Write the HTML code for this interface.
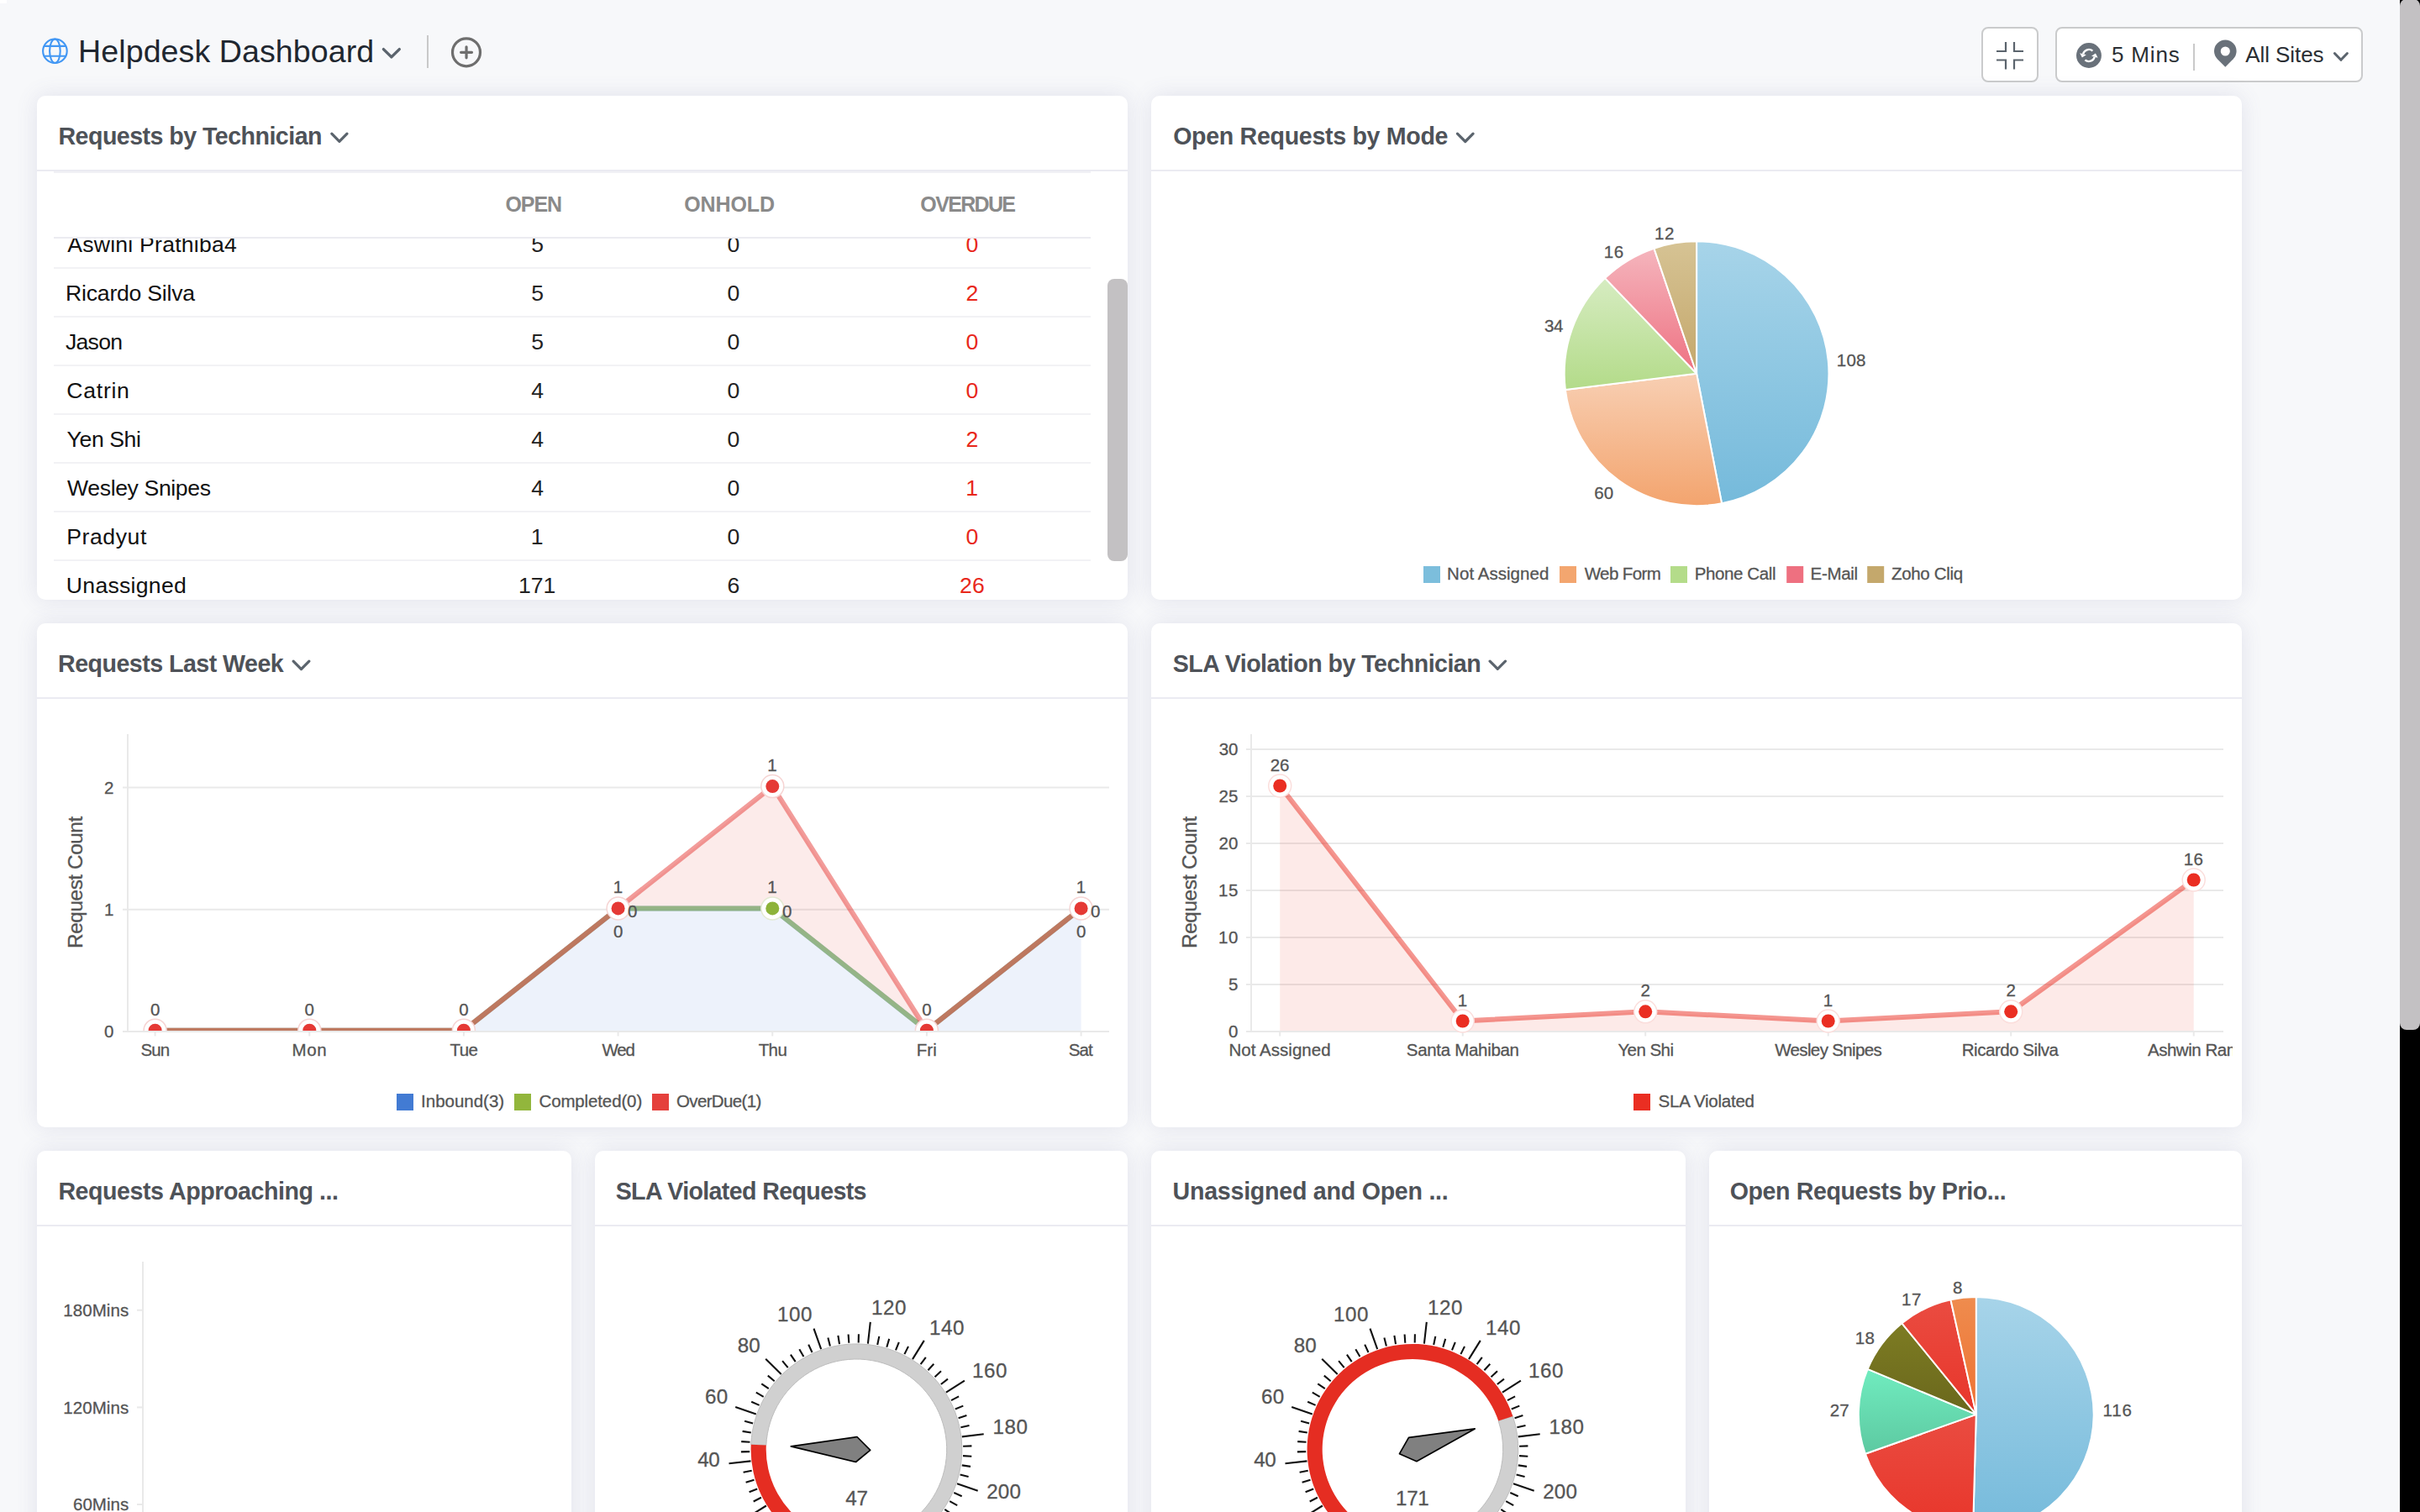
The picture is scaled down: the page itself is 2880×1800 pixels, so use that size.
<!DOCTYPE html><html lang="en"><head><meta charset="utf-8"><title>Helpdesk Dashboard</title><style>
*{box-sizing:border-box}
html,body{margin:0;padding:0}
@media (max-width:1500px){html{zoom:.5}}
body{width:2880px;height:1800px;overflow:hidden;background:#f7f8fa;position:relative;font-family:"Liberation Sans",sans-serif}
.t{position:absolute;white-space:nowrap;line-height:1}
.card{position:absolute;background:#fff;border-radius:10px;box-shadow:0 0 26px rgba(90,90,150,.14);overflow:hidden}
.card .hd{position:absolute;left:0;top:0;right:0;height:90px;border-bottom:2px solid #ebebf2}
svg{position:absolute;left:0;top:0;overflow:visible}
svg text{font-family:"Liberation Sans",sans-serif;stroke:#555;stroke-width:.3px}
.btn{position:absolute;background:#fff;border:2px solid #cacbcc;border-radius:8px}
.row{position:absolute;left:20px;width:1234px;height:2px;background:#f2f2f5}
</style></head><body>
<div id="topbar" style="position:absolute;left:0;top:0;width:2856px;height:114px"><div style="position:absolute;left:0;top:0;width:8px;height:4px;background:#fff"></div>
<svg width="2856" height="114" viewBox="0 0 2856 114">
<g fill="none" stroke="#4297f4" stroke-width="2.1"><circle cx="65.4" cy="60.75" r="14.3"/><ellipse cx="65.4" cy="60.75" rx="6.3" ry="14.3"/><path d="M52.4,54.9H78.4M52.4,66.8H78.4"/></g>
<path d="M456.4,58.6L465.85,67.9L475.3,58.6" fill="none" stroke="#5b646d" stroke-width="3.4" stroke-linecap="round" stroke-linejoin="round"/>
<path d="M509,42V81" stroke="#c9c9c9" stroke-width="2"/>
<g fill="none" stroke="#6e6e6e" stroke-width="3.2"><circle cx="555" cy="62.3" r="16.5"/><path d="M548.6,62.3H561.5M555.05,55.8V68.8" stroke-linecap="round"/></g>
</svg>
<div class="t" style="left:93.12px;top:42.57px;font-size:37.6px;color:#1f2730;letter-spacing:0.063px;">Helpdesk Dashboard</div>
<div class="btn" style="left:2358px;top:32px;width:67.5px;height:66px"></div>
<div class="btn" style="left:2446px;top:32px;width:366px;height:66px"></div>
<svg width="2856" height="114" viewBox="0 0 2856 114">
<path d="M2376,61H2387V50M2397,50V61H2408M2376,71.5H2387V82.5M2397,82.5V71.5H2408" fill="none" stroke="#5b646d" stroke-width="2.2"/>
<circle cx="2485.95" cy="65.95" r="14.95" fill="#69717a"/>
<g fill="none" stroke="#fff" stroke-width="2.4"><path d="M2490.4,60.6A7,7 0 0 0 2479.1,64.2"/><path d="M2481.4,71.4A7,7 0 0 0 2492.7,67.8"/></g>
<path d="M2475.2,63.3L2482.8,65.3L2477.9,68.6Z" fill="#fff"/><path d="M2496.6,68.7L2489,66.7L2493.9,63.4Z" fill="#fff"/>
<path d="M2611,52V84" stroke="#c9c9c9" stroke-width="2"/>
<path d="M2648.3,79.7L2638.85,70.16A13.3,13.3 0 1 1 2657.75,70.16Z" fill="#69717a"/><circle cx="2648.3" cy="61" r="5.55" fill="#fff"/>
<path d="M2778.4,63.5L2785.9,71.3L2793.4,63.5" fill="none" stroke="#5b646d" stroke-width="3" stroke-linecap="round" stroke-linejoin="round"/>
</svg>
<div class="t" style="left:2512.96px;top:52.19px;font-size:26px;color:#2a2e33;letter-spacing:0.860px;">5 Mins</div>
<div class="t" style="left:2672.25px;top:52.19px;font-size:26px;color:#2a2e33;letter-spacing:-0.079px;">All Sites</div>
</div>
<div class="card" id="c1" style="left:44px;top:114px;width:1298px;height:600px"><div class="hd"></div>
<div class="t" style="left:25.49px;top:33.79px;font-size:28.6px;color:#4e5258;font-weight:bold;letter-spacing:-0.535px;">Requests by Technician</div>
<svg width="1298" height="90"><path d="M350.8,45.2L359.9,54.3L369.0,45.2" fill="none" stroke="#5b646d" stroke-width="3.2" stroke-linecap="round" stroke-linejoin="round"/></svg>
<div class="row" style="top:90px;background:#f1f1f5"></div>
<div class="row" style="top:168px;background:#ececf1"></div>
<div class="t" style="left:557.47px;top:117.14px;font-size:25px;color:#8a8a8a;font-weight:bold;letter-spacing:-1.083px;">OPEN</div>
<div class="t" style="left:770.17px;top:117.14px;font-size:25px;color:#8a8a8a;font-weight:bold;letter-spacing:-0.071px;">ONHOLD</div>
<div class="t" style="left:1051.37px;top:117.14px;font-size:25px;color:#8a8a8a;font-weight:bold;letter-spacing:-1.673px;">OVERDUE</div>
<div style="position:absolute;left:0;top:170px;width:1298px;height:430px;overflow:hidden">
<div class="t" style="left:36.25px;top:-6.32px;font-size:26.6px;color:#111;letter-spacing:0.230px;">Aswini Prathiba4</div>
<div class="t" style="left:588.13px;top:-6.32px;font-size:26.6px;color:#222;">5</div>
<div class="t" style="left:821.60px;top:-6.32px;font-size:26.6px;color:#222;">0</div>
<div class="t" style="left:1105.60px;top:-6.32px;font-size:26.6px;color:#e8281b;">0</div>
<div class="row" style="top:34px"></div>
<div class="t" style="left:34.12px;top:51.68px;font-size:26.6px;color:#111;letter-spacing:-0.232px;">Ricardo Silva</div>
<div class="t" style="left:588.13px;top:51.68px;font-size:26.6px;color:#222;">5</div>
<div class="t" style="left:821.60px;top:51.68px;font-size:26.6px;color:#222;">0</div>
<div class="t" style="left:1105.60px;top:51.68px;font-size:26.6px;color:#e8281b;">2</div>
<div class="row" style="top:92px"></div>
<div class="t" style="left:33.98px;top:109.68px;font-size:26.6px;color:#111;letter-spacing:-0.731px;">Jason</div>
<div class="t" style="left:588.13px;top:109.68px;font-size:26.6px;color:#222;">5</div>
<div class="t" style="left:821.60px;top:109.68px;font-size:26.6px;color:#222;">0</div>
<div class="t" style="left:1105.60px;top:109.68px;font-size:26.6px;color:#e8281b;">0</div>
<div class="row" style="top:150px"></div>
<div class="t" style="left:35.35px;top:167.68px;font-size:26.6px;color:#111;letter-spacing:0.725px;">Catrin</div>
<div class="t" style="left:588.19px;top:167.68px;font-size:26.6px;color:#222;">4</div>
<div class="t" style="left:821.60px;top:167.68px;font-size:26.6px;color:#222;">0</div>
<div class="t" style="left:1105.60px;top:167.68px;font-size:26.6px;color:#e8281b;">0</div>
<div class="row" style="top:208px"></div>
<div class="t" style="left:35.62px;top:225.68px;font-size:26.6px;color:#111;letter-spacing:-0.404px;">Yen Shi</div>
<div class="t" style="left:588.19px;top:225.68px;font-size:26.6px;color:#222;">4</div>
<div class="t" style="left:821.60px;top:225.68px;font-size:26.6px;color:#222;">0</div>
<div class="t" style="left:1105.60px;top:225.68px;font-size:26.6px;color:#e8281b;">2</div>
<div class="row" style="top:266px"></div>
<div class="t" style="left:36.08px;top:283.68px;font-size:26.6px;color:#111;letter-spacing:-0.377px;">Wesley Snipes</div>
<div class="t" style="left:588.19px;top:283.68px;font-size:26.6px;color:#222;">4</div>
<div class="t" style="left:821.60px;top:283.68px;font-size:26.6px;color:#222;">0</div>
<div class="t" style="left:1105.24px;top:283.68px;font-size:26.6px;color:#e8281b;">1</div>
<div class="row" style="top:324px"></div>
<div class="t" style="left:35.22px;top:341.68px;font-size:26.6px;color:#111;letter-spacing:0.587px;">Pradyut</div>
<div class="t" style="left:587.74px;top:341.68px;font-size:26.6px;color:#222;">1</div>
<div class="t" style="left:821.60px;top:341.68px;font-size:26.6px;color:#222;">0</div>
<div class="t" style="left:1105.60px;top:341.68px;font-size:26.6px;color:#e8281b;">0</div>
<div class="row" style="top:382px"></div>
<div class="t" style="left:34.85px;top:399.68px;font-size:26.6px;color:#111;letter-spacing:0.279px;">Unassigned</div>
<div class="t" style="left:572.95px;top:399.68px;font-size:26.6px;color:#222;">171</div>
<div class="t" style="left:821.51px;top:399.68px;font-size:26.6px;color:#222;">6</div>
<div class="t" style="left:1098.12px;top:399.68px;font-size:26.6px;color:#e8281b;">26</div>
</div>
<div style="position:absolute;left:1274px;top:218px;width:24px;height:336px;border-radius:8px;background:#c3c1c3"></div>
</div>
<div class="card" id="c2" style="left:1370px;top:114px;width:1298px;height:600px"><div class="hd"></div>
<div class="t" style="left:26.13px;top:33.79px;font-size:28.6px;color:#4e5258;font-weight:bold;letter-spacing:-0.315px;">Open Requests by Mode</div>
<svg width="1298" height="90"><path d="M364.4,45.2L373.8,54.5L383.1,45.2" fill="none" stroke="#5b646d" stroke-width="3.2" stroke-linecap="round" stroke-linejoin="round"/></svg>
<svg width="1298" height="600" viewBox="1370 114 1298 600">
<defs>
<linearGradient id="gb" x1="0" y1="0" x2="0" y2="1"><stop offset="0" stop-color="#a7d4e9"/><stop offset="1" stop-color="#75badb"/></linearGradient>
<linearGradient id="go" x1="0" y1="0" x2="0" y2="1"><stop offset="0" stop-color="#f8cfb3"/><stop offset="1" stop-color="#f3a46e"/></linearGradient>
<linearGradient id="gg" x1="0" y1="0" x2="0" y2="1"><stop offset="0" stop-color="#d6ecc1"/><stop offset="1" stop-color="#b3db89"/></linearGradient>
<linearGradient id="gp" x1="0" y1="0" x2="0" y2="1"><stop offset="0" stop-color="#f5b5bd"/><stop offset="1" stop-color="#ee7282"/></linearGradient>
<linearGradient id="gt" x1="0" y1="0" x2="0" y2="1"><stop offset="0" stop-color="#d6c394"/><stop offset="1" stop-color="#c4a76b"/></linearGradient>
<linearGradient id="gr" x1="0" y1="0" x2="0" y2="1"><stop offset="0" stop-color="#ea4c41"/><stop offset="1" stop-color="#e8352a"/></linearGradient>
<linearGradient id="gm" x1="0" y1="0" x2="0" y2="1"><stop offset="0" stop-color="#70ecbf"/><stop offset="1" stop-color="#5dc9a1"/></linearGradient>
<linearGradient id="gl" x1="0" y1="0" x2="0" y2="1"><stop offset="0" stop-color="#7d7c23"/><stop offset="1" stop-color="#6a671c"/></linearGradient>
<linearGradient id="gn" x1="0" y1="0" x2="0" y2="1"><stop offset="0" stop-color="#ef8c4e"/><stop offset="1" stop-color="#ed7132"/></linearGradient>
</defs>
<path d="M2019.10,444.70L2019.10,287.30A157.4,157.4 0 0 1 2049.02,599.23Z" fill="url(#gb)" stroke="#fff" stroke-width="2" stroke-linejoin="round"/>
<path d="M2019.10,444.70L2049.02,599.23A157.4,157.4 0 0 1 1862.89,464.00Z" fill="url(#go)" stroke="#fff" stroke-width="2" stroke-linejoin="round"/>
<path d="M2019.10,444.70L1862.89,464.00A157.4,157.4 0 0 1 1910.10,331.14Z" fill="url(#gg)" stroke="#fff" stroke-width="2" stroke-linejoin="round"/>
<path d="M2019.10,444.70L1910.10,331.14A157.4,157.4 0 0 1 1968.42,295.68Z" fill="url(#gp)" stroke="#fff" stroke-width="2" stroke-linejoin="round"/>
<path d="M2019.10,444.70L1968.42,295.68A157.4,157.4 0 0 1 2019.10,287.30Z" fill="url(#gt)" stroke="#fff" stroke-width="2" stroke-linejoin="round"/>
<text x="2185.84" y="435.60" font-size="20.5" fill="#555" letter-spacing="0.163" >108</text>
<text x="1968.94" y="284.80" font-size="20.5" fill="#555" letter-spacing="0.641" >12</text>
<text x="1908.74" y="307.30" font-size="20.5" fill="#555" letter-spacing="0.511" >16</text>
<text x="1838.12" y="395.30" font-size="20.5" fill="#555" letter-spacing="-0.570" >34</text>
<text x="1897.36" y="593.70" font-size="20.5" fill="#555" letter-spacing="-0.110" >60</text>
<rect x="1694" y="674" width="20" height="20" fill="#7cbedc"/>
<text x="1722.12" y="690.20" font-size="20.5" fill="#555" letter-spacing="0.036" >Not Assigned</text>
<rect x="1856" y="674" width="20" height="20" fill="#f3a66f"/>
<text x="1885.71" y="690.20" font-size="20.5" fill="#555" letter-spacing="-0.600" >Web Form</text>
<rect x="1988" y="674" width="20" height="20" fill="#b4dc8a"/>
<text x="2016.82" y="690.20" font-size="20.5" fill="#555" letter-spacing="-0.402" >Phone Call</text>
<rect x="2126.2" y="674" width="20" height="20" fill="#ee7080"/>
<text x="2154.62" y="690.20" font-size="20.5" fill="#555" letter-spacing="-0.342" >E-Mail</text>
<rect x="2222.2" y="674" width="20" height="20" fill="#c4a86c"/>
<text x="2250.95" y="690.20" font-size="20.5" fill="#555" letter-spacing="-0.318" >Zoho Cliq</text>
</svg></div>
<div class="card" id="c3" style="left:44px;top:742px;width:1298px;height:600px"><div class="hd"></div>
<div class="t" style="left:25.09px;top:33.79px;font-size:28.6px;color:#4e5258;font-weight:bold;letter-spacing:-0.529px;">Requests Last Week</div>
<svg width="1298" height="90"><path d="M305.1,45.2L314.5,54.6L323.9,45.2" fill="none" stroke="#5b646d" stroke-width="3.2" stroke-linecap="round" stroke-linejoin="round"/></svg>
<svg width="1298" height="600" viewBox="44 742 1298 600">
<path d="M152,874V1228" stroke="#e9e9e9" stroke-width="2"/>
<path d="M146,1228H1320" stroke="#e9e9e9" stroke-width="2"/>
<path d="M146,1082.7H1320" stroke="#e9e9e9" stroke-width="2"/>
<path d="M146,937.4H1320" stroke="#e9e9e9" stroke-width="2"/>
<path d="M184.6,1228v5.5" stroke="#e9e9e9" stroke-width="2"/>
<path d="M368.3,1228v5.5" stroke="#e9e9e9" stroke-width="2"/>
<path d="M551.9,1228v5.5" stroke="#e9e9e9" stroke-width="2"/>
<path d="M735.6,1228v5.5" stroke="#e9e9e9" stroke-width="2"/>
<path d="M919.3,1228v5.5" stroke="#e9e9e9" stroke-width="2"/>
<path d="M1102.9,1228v5.5" stroke="#e9e9e9" stroke-width="2"/>
<path d="M1286.6,1228v5.5" stroke="#e9e9e9" stroke-width="2"/>
<clipPath id="cp3"><rect x="146" y="860" width="1180" height="367"/></clipPath>
<g clip-path="url(#cp3)">
<polygon points="184.6,1228 184.6,1226.7 368.3,1226.7 551.9,1226.7 735.6,1081.4 919.3,1081.4 1102.9,1226.7 1286.6,1081.4 1286.6,1228" fill="#4a7fd8" fill-opacity=".10"/>
<polygon points="184.6,1226.7 368.3,1226.7 551.9,1226.7 735.6,1081.4 919.3,936.1 1102.9,1226.7 1286.6,1081.4 1286.6,1081.4 1102.9,1226.7 919.3,1081.4 735.6,1081.4 551.9,1226.7 368.3,1226.7 184.6,1226.7" fill="#e53935" fill-opacity=".10"/>
<polyline points="184.6,1226.7 368.3,1226.7 551.9,1226.7 735.6,1081.4 919.3,1081.4 1102.9,1226.7 1286.6,1081.4" fill="none" stroke="#4a7fd8" stroke-opacity=".5" stroke-width="6" stroke-linejoin="round"/>
<polyline points="184.6,1226.7 368.3,1226.7 551.9,1226.7 735.6,1081.4 919.3,1081.4 1102.9,1226.7 1286.6,1081.4" fill="none" stroke="#8db33a" stroke-opacity=".55" stroke-width="6" stroke-linejoin="round"/>
<polyline points="184.6,1226.7 368.3,1226.7 551.9,1226.7 735.6,1081.4 919.3,936.1 1102.9,1226.7 1286.6,1081.4" fill="none" stroke="#e53935" stroke-opacity=".5" stroke-width="6" stroke-linejoin="round"/>
<circle cx="184.6" cy="1226.7" r="13.5" fill="#fff" stroke="#f6d4d3" stroke-width="1.5"/><circle cx="184.6" cy="1226.7" r="8" fill="#e53935"/>
<circle cx="368.3" cy="1226.7" r="13.5" fill="#fff" stroke="#f6d4d3" stroke-width="1.5"/><circle cx="368.3" cy="1226.7" r="8" fill="#e53935"/>
<circle cx="551.9" cy="1226.7" r="13.5" fill="#fff" stroke="#f6d4d3" stroke-width="1.5"/><circle cx="551.9" cy="1226.7" r="8" fill="#e53935"/>
<circle cx="735.6" cy="1081.4" r="13.5" fill="#fff" stroke="#f6d4d3" stroke-width="1.5"/><circle cx="735.6" cy="1081.4" r="8" fill="#e53935"/>
<circle cx="919.3" cy="1081.4" r="13.5" fill="#fff" stroke="#e3ead2" stroke-width="1.5"/><circle cx="919.3" cy="1081.4" r="8" fill="#8db33a"/>
<circle cx="919.3" cy="936.1" r="13.5" fill="#fff" stroke="#f6d4d3" stroke-width="1.5"/><circle cx="919.3" cy="936.1" r="8" fill="#e53935"/>
<circle cx="1102.9" cy="1226.7" r="13.5" fill="#fff" stroke="#f6d4d3" stroke-width="1.5"/><circle cx="1102.9" cy="1226.7" r="8" fill="#e53935"/>
<circle cx="1286.6" cy="1081.4" r="13.5" fill="#fff" stroke="#f6d4d3" stroke-width="1.5"/><circle cx="1286.6" cy="1081.4" r="8" fill="#e53935"/>
</g>
<text x="178.90" y="1208.70" font-size="20.5" fill="#555" >0</text>
<text x="362.57" y="1208.70" font-size="20.5" fill="#555" >0</text>
<text x="546.24" y="1208.70" font-size="20.5" fill="#555" >0</text>
<text x="729.63" y="1063.40" font-size="20.5" fill="#555" >1</text>
<text x="913.30" y="918.10" font-size="20.5" fill="#555" >1</text>
<text x="1097.25" y="1208.70" font-size="20.5" fill="#555" >0</text>
<text x="1280.64" y="1063.40" font-size="20.5" fill="#555" >1</text>
<text x="747.11" y="1091.70" font-size="20.5" fill="#555" >0</text>
<text x="729.91" y="1116.40" font-size="20.5" fill="#555" >0</text>
<text x="1298.12" y="1091.70" font-size="20.5" fill="#555" >0</text>
<text x="1280.92" y="1116.40" font-size="20.5" fill="#555" >0</text>
<text x="913.30" y="1063.40" font-size="20.5" fill="#555" >1</text>
<text x="930.98" y="1091.70" font-size="20.5" fill="#555" >0</text>
<text x="123.89" y="1235.30" font-size="20.5" fill="#555" >0</text>
<text x="124.09" y="1090.00" font-size="20.5" fill="#555" >1</text>
<text x="124.12" y="944.70" font-size="20.5" fill="#555" >2</text>
<text x="167.50" y="1257.20" font-size="20.5" fill="#555" letter-spacing="-0.943" >Sun</text>
<text x="347.44" y="1257.20" font-size="20.5" fill="#555" letter-spacing="0.712" >Mon</text>
<text x="535.50" y="1257.20" font-size="20.5" fill="#555" letter-spacing="-0.626" >Tue</text>
<text x="716.51" y="1257.20" font-size="20.5" fill="#555" letter-spacing="-1.175" >Wed</text>
<text x="902.63" y="1257.20" font-size="20.5" fill="#555" letter-spacing="-0.566" >Thu</text>
<text x="1090.73" y="1257.20" font-size="20.5" fill="#555" letter-spacing="0.116" >Fri</text>
<text x="1271.85" y="1257.20" font-size="20.5" fill="#555" letter-spacing="-1.007" >Sat</text>
<text x="-1.99" y="0.00" font-size="24.3" fill="#555" letter-spacing="-0.416" transform="translate(97.6,1126.9) rotate(-90)">Request Count</text>
<rect x="472" y="1302" width="20" height="20" fill="#427bd3"/>
<text x="501.11" y="1317.70" font-size="20.5" fill="#555" letter-spacing="-0.016" >Inbound(3)</text>
<rect x="612" y="1302" width="20" height="20" fill="#92b63c"/>
<text x="641.46" y="1317.70" font-size="20.5" fill="#555" letter-spacing="-0.131" >Completed(0)</text>
<rect x="776" y="1302" width="20" height="20" fill="#e5403c"/>
<text x="805.03" y="1317.70" font-size="20.5" fill="#555" letter-spacing="-0.655" >OverDue(1)</text>
</svg></div>
<div class="card" id="c4" style="left:1370px;top:742px;width:1298px;height:600px"><div class="hd"></div>
<div class="t" style="left:25.78px;top:33.79px;font-size:28.6px;color:#4e5258;font-weight:bold;letter-spacing:-0.534px;">SLA Violation by Technician</div>
<svg width="1298" height="90"><path d="M403.1,45.2L412.3,54.4L421.5,45.2" fill="none" stroke="#5b646d" stroke-width="3.2" stroke-linecap="round" stroke-linejoin="round"/></svg>
<svg width="1298" height="600" viewBox="1370 742 1298 600">
<clipPath id="cp4"><rect x="1370" y="742" width="1287" height="600"/></clipPath><g clip-path="url(#cp4)">
<path d="M1489,874V1228" stroke="#e9e9e9" stroke-width="2"/>
<path d="M1483,1228.0H2646" stroke="#e9e9e9" stroke-width="2"/>
<text x="1461.89" y="1235.30" font-size="20.5" fill="#555" >0</text>
<path d="M1483,1172.0H2646" stroke="#e9e9e9" stroke-width="2"/>
<text x="1461.95" y="1179.30" font-size="20.5" fill="#555" >5</text>
<path d="M1483,1116.0H2646" stroke="#e9e9e9" stroke-width="2"/>
<text x="1450.08" y="1123.30" font-size="20.5" fill="#555" letter-spacing="0.411" >10</text>
<path d="M1483,1060.0H2646" stroke="#e9e9e9" stroke-width="2"/>
<text x="1450.08" y="1067.30" font-size="20.5" fill="#555" letter-spacing="0.471" >15</text>
<path d="M1483,1004.0H2646" stroke="#e9e9e9" stroke-width="2"/>
<text x="1450.61" y="1011.30" font-size="20.5" fill="#555" letter-spacing="-0.120" >20</text>
<path d="M1483,948.0H2646" stroke="#e9e9e9" stroke-width="2"/>
<text x="1450.61" y="955.30" font-size="20.5" fill="#555" letter-spacing="-0.060" >25</text>
<path d="M1483,892.0H2646" stroke="#e9e9e9" stroke-width="2"/>
<text x="1450.86" y="899.30" font-size="20.5" fill="#555" letter-spacing="-0.370" >30</text>
<path d="M1523.2,1228v5.5" stroke="#e9e9e9" stroke-width="2"/>
<path d="M1740.7,1228v5.5" stroke="#e9e9e9" stroke-width="2"/>
<path d="M1958.2,1228v5.5" stroke="#e9e9e9" stroke-width="2"/>
<path d="M2175.7,1228v5.5" stroke="#e9e9e9" stroke-width="2"/>
<path d="M2393.2,1228v5.5" stroke="#e9e9e9" stroke-width="2"/>
<path d="M2610.7,1228v5.5" stroke="#e9e9e9" stroke-width="2"/>
<polygon points="1523.2,1227 1523.2,935.5 1740.7,1215.5 1958.2,1204.3 2175.7,1215.5 2393.2,1204.3 2610.7,1047.5 2610.7,1227" fill="#ea2e22" fill-opacity=".10"/>
<polyline points="1523.2,935.5 1740.7,1215.5 1958.2,1204.3 2175.7,1215.5 2393.2,1204.3 2610.7,1047.5" fill="none" stroke="#ea2e22" stroke-opacity=".5" stroke-width="6" stroke-linejoin="round"/>
<circle cx="1523.2" cy="935.5" r="13.5" fill="#fff" stroke="#fbdedc" stroke-width="1.5"/><circle cx="1523.2" cy="935.5" r="8" fill="#ea2e22"/>
<text x="1511.74" y="917.50" font-size="20.5" fill="#555" letter-spacing="-0.020" >26</text>
<circle cx="1740.7" cy="1215.5" r="13.5" fill="#fff" stroke="#fbdedc" stroke-width="1.5"/><circle cx="1740.7" cy="1215.5" r="8" fill="#ea2e22"/>
<text x="1734.72" y="1197.50" font-size="20.5" fill="#555" >1</text>
<circle cx="1958.2" cy="1204.3" r="13.5" fill="#fff" stroke="#fbdedc" stroke-width="1.5"/><circle cx="1958.2" cy="1204.3" r="8" fill="#ea2e22"/>
<text x="1952.50" y="1186.30" font-size="20.5" fill="#555" >2</text>
<circle cx="2175.7" cy="1215.5" r="13.5" fill="#fff" stroke="#fbdedc" stroke-width="1.5"/><circle cx="2175.7" cy="1215.5" r="8" fill="#ea2e22"/>
<text x="2169.72" y="1197.50" font-size="20.5" fill="#555" >1</text>
<circle cx="2393.2" cy="1204.3" r="13.5" fill="#fff" stroke="#fbdedc" stroke-width="1.5"/><circle cx="2393.2" cy="1204.3" r="8" fill="#ea2e22"/>
<text x="2387.50" y="1186.30" font-size="20.5" fill="#555" >2</text>
<circle cx="2610.7" cy="1047.5" r="13.5" fill="#fff" stroke="#fbdedc" stroke-width="1.5"/><circle cx="2610.7" cy="1047.5" r="8" fill="#ea2e22"/>
<text x="2598.71" y="1029.50" font-size="20.5" fill="#555" letter-spacing="0.511" >16</text>
<text x="1462.42" y="1257.20" font-size="20.5" fill="#555" letter-spacing="0.036" >Not Assigned</text>
<text x="1673.82" y="1257.20" font-size="20.5" fill="#555" letter-spacing="-0.312" >Santa Mahiban</text>
<text x="1925.38" y="1257.20" font-size="20.5" fill="#555" letter-spacing="-0.559" >Yen Shi</text>
<text x="2112.21" y="1257.20" font-size="20.5" fill="#555" letter-spacing="-0.632" >Wesley Snipes</text>
<text x="2334.78" y="1257.20" font-size="20.5" fill="#555" letter-spacing="-0.469" >Ricardo Silva</text>
<text x="2555.98" y="1257.20" font-size="20.5" fill="#555" letter-spacing="-0.478" >Ashwin Ram</text>
<text x="-1.99" y="0.00" font-size="24.3" fill="#555" letter-spacing="-0.416" transform="translate(1423.6,1126.9) rotate(-90)">Request Count</text>
<rect x="1944" y="1302" width="20" height="20" fill="#ea2e22"/>
<text x="1973.57" y="1317.70" font-size="20.5" fill="#555" letter-spacing="-0.238" >SLA Violated</text>
</g></svg></div>
<div class="card" id="c5" style="left:44px;top:1370px;width:636px;height:600px"><div class="hd"></div>
<div class="t" style="left:25.39px;top:33.79px;font-size:28.6px;color:#4e5258;font-weight:bold;letter-spacing:-0.440px;">Requests Approaching ...</div>
<svg width="636" height="600" viewBox="44 1370 636 600">
<path d="M170,1502V1800" stroke="#e9e9e9" stroke-width="2"/>
<path d="M163,1559.7h7" stroke="#e9e9e9" stroke-width="2"/>
<text x="75.18" y="1567.00" font-size="20.5" fill="#555" letter-spacing="0.093" >180Mins</text>
<path d="M163,1675.4h7" stroke="#e9e9e9" stroke-width="2"/>
<text x="75.18" y="1682.70" font-size="20.5" fill="#555" letter-spacing="0.093" >120Mins</text>
<path d="M163,1791h7" stroke="#e9e9e9" stroke-width="2"/>
<text x="86.94" y="1798.30" font-size="20.5" fill="#555" letter-spacing="0.042" >60Mins</text>
</svg></div>
<div class="card" id="c6" style="left:708px;top:1370px;width:634px;height:600px"><div class="hd"></div>
<div class="t" style="left:24.68px;top:33.79px;font-size:28.6px;color:#4e5258;font-weight:bold;letter-spacing:-0.632px;">SLA Violated Requests</div>
<svg width="636" height="600" viewBox="708 1370 636 600">
<path d="M893.73,1719.68A125.6,125.6 0 1 1 1078.17,1836.40L1069.67,1820.42A107.5,107.5 0 1 0 911.82,1720.52Z" fill="#d0d0d0" stroke="#bdbdbd" stroke-width="1"/>
<path d="M951.90,1831.55A125.6,125.6 0 0 1 893.73,1719.68L911.82,1720.52A107.5,107.5 0 0 0 961.60,1816.27Z" fill="#e52d22"/>
<path d="M951.4,1832.3L937.4,1854.3M941.8,1826.2L935.6,1834.4M933.1,1818.9L926.2,1826.5M925.1,1810.8L917.5,1817.8M917.9,1802.1L909.7,1808.3M911.9,1792.5L889.7,1806.3M905.9,1782.8L896.7,1787.5M901.2,1772.5L891.6,1776.3M897.5,1761.7L887.6,1764.7M894.7,1750.7L884.6,1752.8M893.5,1739.4L867.5,1742.3M892.2,1728.1L881.9,1728.4M892.5,1716.8L882.2,1716.1M893.8,1705.5L883.6,1703.9M896.1,1694.4L886.1,1691.8M899.8,1683.6L875.2,1675.0M903.6,1672.9L894.2,1668.7M908.7,1662.8L899.8,1657.7M914.8,1653.2L906.3,1647.3M921.7,1644.2L913.8,1637.6M929.7,1636.1L911.2,1617.7M937.7,1628.1L931.1,1620.2M946.7,1621.2L940.9,1612.7M956.4,1615.1L951.3,1606.2M966.5,1610.0L962.2,1600.6M977.2,1606.2L968.5,1581.6M987.9,1602.4L985.4,1592.4M999.0,1600.1L997.4,1589.9M1010.3,1598.8L1009.6,1588.5M1021.7,1598.5L1021.9,1588.2M1032.9,1599.7L1035.8,1573.8M1044.2,1601.0L1046.3,1590.9M1055.3,1603.7L1058.2,1593.9M1066.0,1607.4L1069.8,1597.9M1076.4,1612.1L1081.0,1602.9M1086.0,1618.1L1099.8,1595.9M1095.6,1624.1L1101.8,1615.9M1104.4,1631.3L1111.3,1623.7M1112.5,1639.3L1120.0,1632.3M1119.8,1648.0L1128.0,1641.7M1125.9,1657.6L1147.9,1643.6M1132.0,1667.1L1141.1,1662.4M1136.8,1677.5L1146.3,1673.6M1140.6,1688.2L1150.4,1685.1M1143.4,1699.2L1153.5,1697.0M1144.8,1710.4L1170.7,1707.3M1146.1,1721.7L1156.4,1721.4M1146.0,1733.1L1156.3,1733.7M1144.8,1744.4L1155.0,1745.9M1142.6,1755.5L1152.6,1758.0M1139.0,1766.3L1163.7,1774.7M1135.3,1777.0L1144.7,1781.2M1130.2,1787.2L1139.2,1792.2M1124.3,1796.9L1132.8,1802.6M1117.5,1806.0L1125.4,1812.5M1109.5,1814.1L1128.2,1832.3M1101.6,1822.2L1108.2,1830.0M1092.6,1829.1L1098.5,1837.6M1083.0,1835.3L1088.2,1844.2" stroke="#111" stroke-width="2.1" fill="none"/>
<text x="830.13" y="1745.80" font-size="24.2" fill="#555" letter-spacing="-0.372" >40</text>
<text x="838.95" y="1671.30" font-size="24.2" fill="#555" letter-spacing="0.301" >60</text>
<text x="877.63" y="1610.30" font-size="24.2" fill="#555" letter-spacing="0.124" >80</text>
<text x="925.10" y="1572.80" font-size="24.2" fill="#555" letter-spacing="0.469" >100</text>
<text x="1037.10" y="1564.80" font-size="24.2" fill="#555" letter-spacing="0.469" >120</text>
<text x="1106.10" y="1588.80" font-size="24.2" fill="#555" letter-spacing="0.469" >140</text>
<text x="1157.10" y="1639.80" font-size="24.2" fill="#555" letter-spacing="0.469" >160</text>
<text x="1181.60" y="1707.30" font-size="24.2" fill="#555" letter-spacing="0.469" >180</text>
<text x="1174.23" y="1783.80" font-size="24.2" fill="#555" letter-spacing="0.156" >200</text>
<path d="M941.3,1721.9L1018.5,1740.5L1035.7,1726.3L1019.9,1710.5Z" fill="#808080" stroke="#000" stroke-width="1.7" stroke-linejoin="round"/>
<text x="1006.13" y="1792.00" font-size="24.2" fill="#555" letter-spacing="-0.101" >47</text>
</svg></div>
<div class="card" id="c7" style="left:1370px;top:1370px;width:636px;height:600px"><div class="hd"></div>
<div class="t" style="left:25.58px;top:33.79px;font-size:28.6px;color:#4e5258;font-weight:bold;letter-spacing:-0.249px;">Unassigned and Open ...</div>
<svg width="636" height="600" viewBox="1370 1370 636 600">
<path d="M1800.39,1685.90A125.6,125.6 0 0 1 1740.17,1836.40L1731.67,1820.42A107.5,107.5 0 0 0 1783.22,1691.61Z" fill="#d0d0d0" stroke="#bdbdbd" stroke-width="1"/>
<path d="M1613.90,1831.55A125.6,125.6 0 1 1 1800.39,1685.90L1783.22,1691.61A107.5,107.5 0 1 0 1623.60,1816.27Z" fill="#e52d22"/>
<path d="M1613.4,1832.3L1599.4,1854.3M1603.8,1826.2L1597.6,1834.4M1595.1,1818.9L1588.2,1826.5M1587.1,1810.8L1579.5,1817.8M1579.9,1802.1L1571.7,1808.3M1573.9,1792.5L1551.7,1806.3M1567.9,1782.8L1558.7,1787.5M1563.2,1772.5L1553.6,1776.3M1559.5,1761.7L1549.6,1764.7M1556.7,1750.7L1546.6,1752.8M1555.5,1739.4L1529.5,1742.3M1554.2,1728.1L1543.9,1728.4M1554.5,1716.8L1544.2,1716.1M1555.8,1705.5L1545.6,1703.9M1558.1,1694.4L1548.1,1691.8M1561.8,1683.6L1537.2,1675.0M1565.6,1672.9L1556.2,1668.7M1570.7,1662.8L1561.8,1657.7M1576.8,1653.2L1568.3,1647.3M1583.7,1644.2L1575.8,1637.6M1591.7,1636.1L1573.2,1617.7M1599.7,1628.1L1593.1,1620.2M1608.7,1621.2L1602.9,1612.7M1618.4,1615.1L1613.3,1606.2M1628.5,1610.0L1624.2,1600.6M1639.2,1606.2L1630.5,1581.6M1649.9,1602.4L1647.4,1592.4M1661.0,1600.1L1659.4,1589.9M1672.3,1598.8L1671.6,1588.5M1683.7,1598.5L1683.9,1588.2M1694.9,1599.7L1697.8,1573.8M1706.2,1601.0L1708.3,1590.9M1717.3,1603.7L1720.2,1593.9M1728.0,1607.4L1731.8,1597.9M1738.4,1612.1L1743.0,1602.9M1748.0,1618.1L1761.8,1595.9M1757.6,1624.1L1763.8,1615.9M1766.4,1631.3L1773.3,1623.7M1774.5,1639.3L1782.0,1632.3M1781.8,1648.0L1790.0,1641.7M1787.9,1657.6L1809.9,1643.6M1794.0,1667.1L1803.1,1662.4M1798.8,1677.5L1808.3,1673.6M1802.6,1688.2L1812.4,1685.1M1805.4,1699.2L1815.5,1697.0M1806.8,1710.4L1832.7,1707.3M1808.1,1721.7L1818.4,1721.4M1808.0,1733.1L1818.3,1733.7M1806.8,1744.4L1817.0,1745.9M1804.6,1755.5L1814.6,1758.0M1801.0,1766.3L1825.7,1774.7M1797.3,1777.0L1806.7,1781.2M1792.2,1787.2L1801.2,1792.2M1786.3,1796.9L1794.8,1802.6M1779.5,1806.0L1787.4,1812.5M1771.5,1814.1L1790.2,1832.3M1763.6,1822.2L1770.2,1830.0M1754.6,1829.1L1760.5,1837.6M1745.0,1835.3L1750.2,1844.2" stroke="#111" stroke-width="2.1" fill="none"/>
<text x="1492.13" y="1745.80" font-size="24.2" fill="#555" letter-spacing="-0.372" >40</text>
<text x="1500.95" y="1671.30" font-size="24.2" fill="#555" letter-spacing="0.301" >60</text>
<text x="1539.63" y="1610.30" font-size="24.2" fill="#555" letter-spacing="0.124" >80</text>
<text x="1587.10" y="1572.80" font-size="24.2" fill="#555" letter-spacing="0.469" >100</text>
<text x="1699.10" y="1564.80" font-size="24.2" fill="#555" letter-spacing="0.469" >120</text>
<text x="1768.10" y="1588.80" font-size="24.2" fill="#555" letter-spacing="0.469" >140</text>
<text x="1819.10" y="1639.80" font-size="24.2" fill="#555" letter-spacing="0.469" >160</text>
<text x="1843.60" y="1707.30" font-size="24.2" fill="#555" letter-spacing="0.469" >180</text>
<text x="1836.23" y="1783.80" font-size="24.2" fill="#555" letter-spacing="0.156" >200</text>
<path d="M1755.2,1700.9L1676.5,1711.3L1665.5,1730.7L1685.9,1739.7Z" fill="#808080" stroke="#000" stroke-width="1.7" stroke-linejoin="round"/>
<text x="1661.11" y="1792.00" font-size="24.2" fill="#555" letter-spacing="-0.417" >171</text>
</svg></div>
<div class="card" id="c8" style="left:2034px;top:1370px;width:634px;height:600px"><div class="hd"></div>
<div class="t" style="left:24.73px;top:33.79px;font-size:28.6px;color:#4e5258;font-weight:bold;letter-spacing:-0.408px;">Open Requests by Prio...</div>
<svg width="634" height="600" viewBox="2034 1370 634 600">
<path d="M2351.80,1683.90L2351.80,1543.90A140,140 0 1 1 2347.98,1823.85Z" fill="url(#gb)" stroke="#fff" stroke-width="2" stroke-linejoin="round"/>
<path d="M2351.80,1683.90L2347.98,1823.85A140,140 0 0 1 2219.88,1730.78Z" fill="url(#gr)" stroke="#fff" stroke-width="2" stroke-linejoin="round"/>
<path d="M2351.80,1683.90L2219.88,1730.78A140,140 0 0 1 2222.64,1629.88Z" fill="url(#gm)" stroke="#fff" stroke-width="2" stroke-linejoin="round"/>
<path d="M2351.80,1683.90L2222.64,1629.88A140,140 0 0 1 2263.45,1575.30Z" fill="url(#gl)" stroke="#fff" stroke-width="2" stroke-linejoin="round"/>
<path d="M2351.80,1683.90L2263.45,1575.30A140,140 0 0 1 2321.45,1547.23Z" fill="url(#gr)" stroke="#fff" stroke-width="2" stroke-linejoin="round"/>
<path d="M2351.80,1683.90L2321.45,1547.23A140,140 0 0 1 2351.80,1543.90Z" fill="url(#gn)" stroke="#fff" stroke-width="2" stroke-linejoin="round"/>
<text x="2502.44" y="1686.00" font-size="20.5" fill="#555" letter-spacing="0.933" >116</text>
<text x="2177.87" y="1686.00" font-size="20.5" fill="#555" letter-spacing="0.110" >27</text>
<text x="2207.64" y="1600.10" font-size="20.5" fill="#555" letter-spacing="0.501" >18</text>
<text x="2262.94" y="1554.10" font-size="20.5" fill="#555" letter-spacing="0.641" >17</text>
<text x="2324.10" y="1539.90" font-size="20.5" fill="#555" >8</text>
</svg></div>
<div style="position:absolute;left:2856px;top:0;width:24px;height:1800px;background:#000"><div style="position:absolute;left:0;top:-1px;width:24px;height:1227px;border-radius:8px;background:#c3c1c3"></div></div>
</body></html>
